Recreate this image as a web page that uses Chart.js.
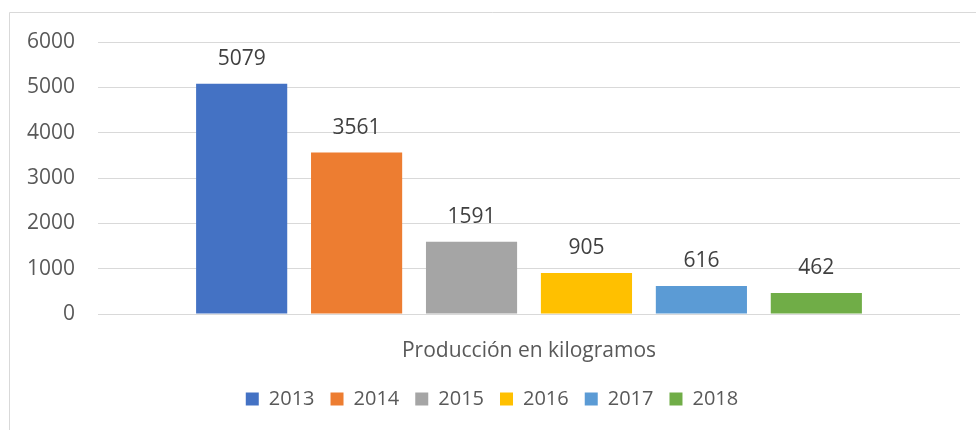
<!DOCTYPE html>
<html>
<head>
<meta charset="utf-8">
<script src="https://cdn.jsdelivr.net/npm/chart.js@4.4.1/dist/chart.umd.min.js"></script>
<style>
  html, body { margin: 0; padding: 0; background: #ffffff; }
  #wrap { width: 976px; height: 430px; position: relative; }
</style>
</head>
<body>
<div id="wrap"><canvas id="c" width="976" height="430"></canvas></div>
<script>
const categories = ['Producción en kilogramos'];
const seriesNames = ['2013', '2014', '2015', '2016', '2017', '2018'];
const seriesValues = [[5079], [3561], [1591], [905], [616], [462]];
const seriesColors = ['#4472C4', '#ED7D31', '#A5A5A5', '#FFC000', '#5B9BD5', '#70AD47'];
const yTicks = [0, 1000, 2000, 3000, 4000, 5000, 6000];

const FONT = "'Open Sans', 'Noto Sans', sans-serif";

const frame = {
  id: 'frame',
  beforeDraw(chart) {
    const ctx = chart.ctx;
    ctx.save();
    ctx.fillStyle = '#ffffff';
    ctx.fillRect(0, 0, chart.width, chart.height);
    ctx.strokeStyle = '#d9d9d9';
    ctx.lineWidth = 1;
    ctx.beginPath();
    ctx.moveTo(9.5, chart.height);
    ctx.lineTo(9.5, 12.5);
    ctx.lineTo(chart.width, 12.5);
    ctx.stroke();
    ctx.restore();
  }
};

const valueLabels = {
  id: 'valueLabels',
  afterDatasetsDraw(chart) {
    const ctx = chart.ctx;
    ctx.save();
    ctx.font = '21px ' + FONT;
    ctx.fillStyle = '#404040';
    ctx.textAlign = 'center';
    ctx.textBaseline = 'middle';
    chart.data.datasets.forEach((ds, i) => {
      const meta = chart.getDatasetMeta(i);
      meta.data.forEach((bar, j) => {
        ctx.fillText(String(ds.data[j]), bar.x, bar.y - 25);
      });
    });
    ctx.restore();
  }
};

new Chart(document.getElementById('c'), {
  type: 'bar',
  data: {
    labels: categories,
    datasets: seriesNames.map((name, i) => ({
      label: name,
      data: seriesValues[i],
      backgroundColor: seriesColors[i],
      borderWidth: 0,
      categoryPercentage: 0.8,
      barPercentage: 0.793
    }))
  },
  options: {
    responsive: false,
    animation: false,
    devicePixelRatio: 1,
    layout: { padding: { left: 24, right: 16, top: 42, bottom: 11 } },
    plugins: {
      tooltip: { enabled: false },
      legend: {
        position: 'bottom',
        labels: {
          boxWidth: 13,
          boxHeight: 13,
          padding: 16,
          color: '#595959',
          font: { family: FONT, size: 20 }
        }
      }
    },
    scales: {
      x: {
        grid: { display: false },
        border: { display: false },
        ticks: { color: '#595959', padding: 16, font: { family: FONT, size: 21 } },
        afterFit(scale) { scale.height = 59; }
      },
      y: {
        min: 0,
        max: 6000,
        afterBuildTicks(scale) { scale.ticks = yTicks.map(v => ({ value: v })); },
        grid: { color: '#d9d9d9', lineWidth: 1, drawTicks: false },
        border: { display: false },
        ticks: {
          color: '#595959',
          padding: 23,
          font: { family: FONT, size: 21 },
          callback: (v) => String(v)
        },
        afterFit(scale) { scale.width = 74; }
      }
    }
  },
  plugins: [frame, valueLabels]
});
</script>
</body>
</html>
